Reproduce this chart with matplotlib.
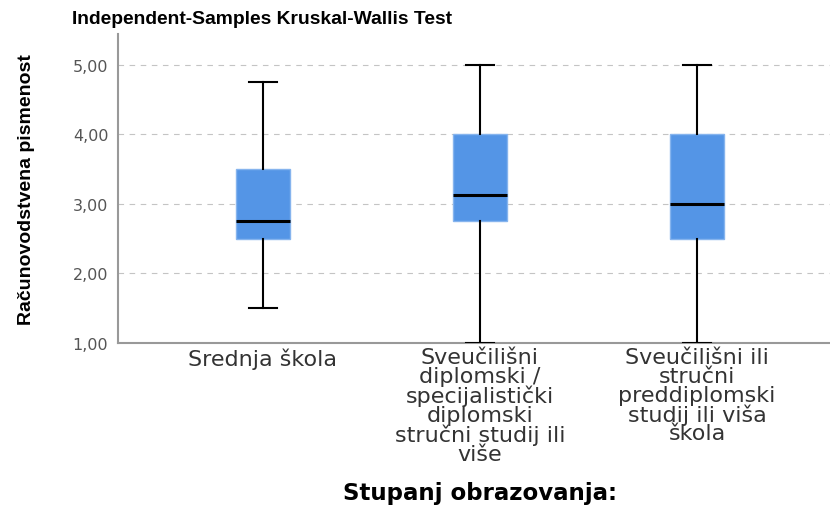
import matplotlib
matplotlib.use("Agg")
import matplotlib.pyplot as plt

categories = ["Srednja škola",
              "Sveučilišni\ndiplomski /\nspecijalistički\ndiplomski\nstručni studij ili\nviše",
              "Sveučilišni ili\nstručni\npreddiplomski\nstudij ili viša\nškola"]
q1 = [2.50, 2.75, 2.50]
med = [2.75, 3.125, 3.00]
q3 = [3.50, 4.00, 4.00]
whislo = [1.50, 1.00, 1.00]
whishi = [4.75, 5.00, 5.00]
yticks = [1, 2, 3, 4, 5]
ytick_labels = ["1,00", "2,00", "3,00", "4,00", "5,00"]

fig = plt.figure(figsize=(8.3, 5.06), dpi=100)
ax = fig.add_axes([118/830, 1-344/506, 1-118/830, (344-35)/506])

stats = []
for i in range(len(categories)):
    stats.append(dict(med=med[i], q1=q1[i], q3=q3[i], whislo=whislo[i],
                      whishi=whishi[i], fliers=[]))

ax.bxp(stats, positions=range(len(categories)), widths=0.245, patch_artist=True,
       showfliers=False,
       boxprops=dict(facecolor="#5495E6", edgecolor="#86B4EE", linewidth=1),
       medianprops=dict(color="black", linewidth=2.2),
       whiskerprops=dict(color="black", linewidth=1.5),
       capprops=dict(color="black", linewidth=1.5),
       capwidths=0.128, zorder=3)

ax.set_xlim(-0.668, 2.613)
ax.set_ylim(1, 5.446)
ax.set_yticks(yticks)
ax.set_yticklabels(ytick_labels, family="DejaVu Sans", fontsize=11.5, color="#555555")
ax.set_xticks(range(len(categories)))
ax.set_xticklabels(categories, family="DejaVu Sans", fontsize=16, color="#333333",
                   linespacing=0.92, va="top")
ax.tick_params(axis="both", length=0)
ax.tick_params(axis="x", pad=3)
ax.tick_params(axis="y", pad=7)

ax.yaxis.grid(True, linestyle=(0, (5, 5)), color="#c4c4c4", linewidth=0.8, zorder=0)
ax.set_axisbelow(True)
for s in ["top", "right"]:
    ax.spines[s].set_visible(False)
for s in ["left", "bottom"]:
    ax.spines[s].set_color("#999999")
    ax.spines[s].set_linewidth(1.5)

ax.set_ylabel("Računovodstvena pismenost", family="Liberation Sans",
              fontweight="bold", fontsize=14, va="center")
ax.yaxis.set_label_coords((27-118)/712, (344-190)/309)

fig.text(72/830, 1-19/506, "Independent-Samples Kruskal-Wallis Test",
         family="Liberation Sans", fontweight="bold", fontsize=13.9,
         ha="left", va="center", color="black")
fig.text(480/830, 1-494/506, "Stupanj obrazovanja:", family="DejaVu Sans",
         fontweight="bold", fontsize=16.5, ha="center", va="center", color="black")

fig.savefig("out.png", dpi=100)
